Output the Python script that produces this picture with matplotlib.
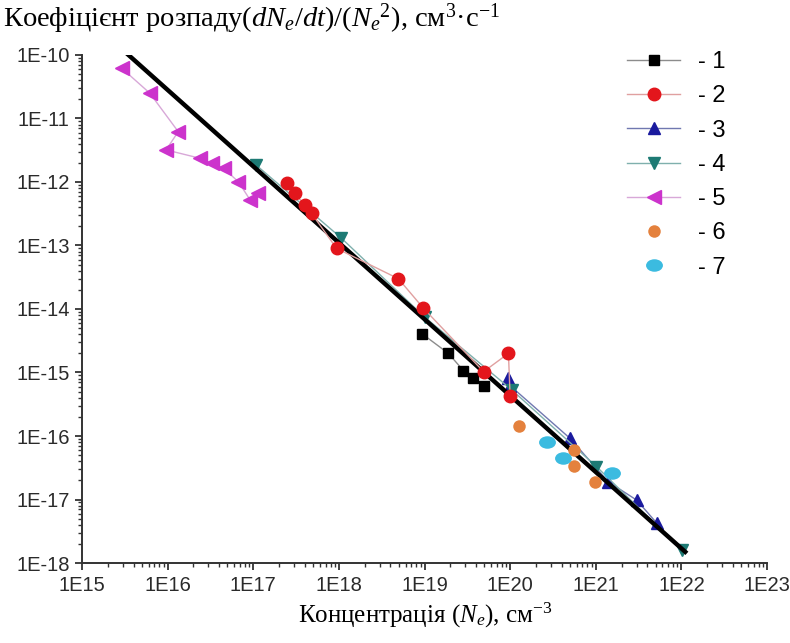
import numpy as np
import matplotlib
matplotlib.use("Agg")
import matplotlib.pyplot as plt
from matplotlib.markers import MarkerStyle
from matplotlib.transforms import Affine2D
from matplotlib.ticker import FixedLocator, FuncFormatter, NullFormatter

plt.rcParams['font.family'] = ['Liberation Serif', 'DejaVu Serif']
plt.rcParams['mathtext.fontset'] = 'custom'
plt.rcParams['mathtext.rm'] = 'Liberation Serif'
plt.rcParams['mathtext.it'] = 'Liberation Serif:italic'

# series 1 - squares
n1 = [9.3e18, 1.9e19, 2.85e19, 3.7e19, 4.9e19]
k1 = [4.1e-15, 2.0e-15, 1.07e-15, 8.1e-16, 6.1e-16]
# series 2 - circles
n2 = [2.46e17, 3.08e17, 4.0e17, 4.8e17, 9.4e17, 4.95e18, 9.7e18, 4.9e19, 9.55e19, 1.0e20]
k2 = [9.5e-13, 6.6e-13, 4.3e-13, 3.2e-13, 9.0e-14, 3.0e-14, 1.03e-14, 1.03e-15, 2.0e-15, 4.2e-16]
# series 3 - up triangles
n3 = [9.55e19, 1.0e20, 5.0e20, 1.4e21, 3.0e21, 5.2e21]
k3 = [8.1e-16, 6.2e-16, 9.2e-17, 1.9e-17, 9.8e-18, 4.2e-18]
# series 4 - down triangles
n4 = [1.08e17, 1.06e18, 1.0e19, 1.05e20, 1.02e21, 1.01e22]
k4 = [1.85e-12, 1.32e-13, 7.5e-15, 5.3e-16, 3.3e-17, 1.6e-18]
# series 5 - left triangles
n5 = [2.91e15, 6.2e15, 1.33e16, 9.6e15, 2.4e16, 3.3e16, 4.5e16, 6.7e16, 9.2e16, 1.15e17]
k5 = [6.2e-11, 2.5e-11, 6.2e-12, 3.2e-12, 2.36e-12, 1.97e-12, 1.64e-12, 1.01e-12, 5.2e-13, 6.6e-13]
# series 6 - points only
n6 = [1.28e20, 5.5e20, 5.5e20, 9.8e20]
k6 = [1.44e-16, 6.0e-17, 3.4e-17, 1.9e-17]
# series 7 - points only
n7 = [2.7e20, 4.2e20, 1.54e21]
k7 = [8.1e-17, 4.5e-17, 2.6e-17]
# power-law fit line
fit_n = [3.0e15, 1.16e22]
fit_k = [1.2e-10, 1.42e-18]

x_decades = list(range(15, 24))
y_decades = list(range(-18, -9))

fig = plt.figure(figsize=(7.9, 6.43), dpi=100)
ax = fig.add_axes([0.1038, 0.1244, 0.8671, 0.7901])
ax.set_xscale('log')
ax.set_yscale('log')
ax.set_xlim(1e15, 1e23)
ax.set_ylim(1e-18, 1e-10)

ellipse = MarkerStyle('o', transform=Affine2D().scale(1.35, 1.0))

h3, = ax.plot(n3, k3, '-', color='#7078b0', lw=1, marker='^', ms=9,
              mfc='#1a1a9e', mec='#1a1a9e', zorder=2)
h4, = ax.plot(n4, k4, '-', color='#7fb0ad', lw=1, marker='v', ms=9,
              mfc='#1d7a74', mec='#1d7a74', zorder=2)
ax.plot(fit_n, fit_k, '-', color='black', lw=3.2, zorder=3, solid_capstyle='butt')
h1, = ax.plot(n1, k1, '-', color='#8c8c8c', lw=1, marker='s', ms=7.5,
              mfc='black', mec='black', zorder=4)
h2, = ax.plot(n2, k2, '-', color='#e0a0a0', lw=1, marker='o', ms=9,
              mfc='#e3161c', mec='#e3161c', zorder=4)
h5, = ax.plot(n5, k5, '-', color='#d8a8d8', lw=1, marker='<', ms=10,
              mfc='#cc33cc', mec='#cc33cc', zorder=4)
h6, = ax.plot(n6, k6, 'o', color='#e4813d', ms=9, mec='none', zorder=5)
h7, = ax.plot(n7, k7, ls='none', marker=ellipse, color='#3bbbe0', ms=9, mec='none', zorder=5)

for side in ['top', 'right']:
    ax.spines[side].set_visible(False)
for side in ['left', 'bottom']:
    ax.spines[side].set_linewidth(1.4)
    ax.spines[side].set_color('#333333')

ax.xaxis.set_major_locator(FixedLocator([10.0 ** d for d in x_decades]))
ax.yaxis.set_major_locator(FixedLocator([10.0 ** d for d in y_decades]))
ax.xaxis.set_minor_locator(FixedLocator([s * 10.0 ** d for d in x_decades[:-1] for s in range(2, 10)]))
ax.yaxis.set_minor_locator(FixedLocator([s * 10.0 ** d for d in y_decades[:-1] for s in range(2, 10)]))
fmt = FuncFormatter(lambda v, _: '1E%d' % int(round(np.log10(v))))
ax.xaxis.set_major_formatter(fmt)
ax.yaxis.set_major_formatter(fmt)
ax.xaxis.set_minor_formatter(NullFormatter())
ax.yaxis.set_minor_formatter(NullFormatter())
ax.tick_params(which='major', direction='out', length=5, width=1.3, color='#333333',
               labelsize=14.5, labelcolor='#2a2a2a', pad=4)
ax.tick_params(which='minor', direction='out', length=3, width=1.0, color='#333333')
for lab in ax.get_xticklabels() + ax.get_yticklabels():
    lab.set_family('Liberation Sans')

leg = ax.legend([h1, h2, h3, h4, h5, h6, h7],
                ['- 1', '- 2', '- 3', '- 4', '- 5', '- 6', '- 7'],
                loc='upper left', bbox_to_anchor=(627 / 790, 1 - 51 / 643),
                bbox_transform=fig.transFigure, frameon=False,
                prop={'family': 'Liberation Sans', 'size': 17},
                handlelength=2.25, handletextpad=0.75, labelspacing=0.52,
                borderpad=0, borderaxespad=0)

fig.text(3 / 790, 1 - 27 / 643,
         'Коефіцієнт розпаду($dN_e/dt$)/($N_e{}^{2}$), см$^3$·с$^{-1}$',
         fontsize=20.5, va='baseline', ha='left')
fig.text(425 / 790, 1 - 623 / 643, 'Концентрація ($N_e$), см$^{-3}$',
         fontsize=18, va='baseline', ha='center')

fig.savefig('out.png', dpi=100)
